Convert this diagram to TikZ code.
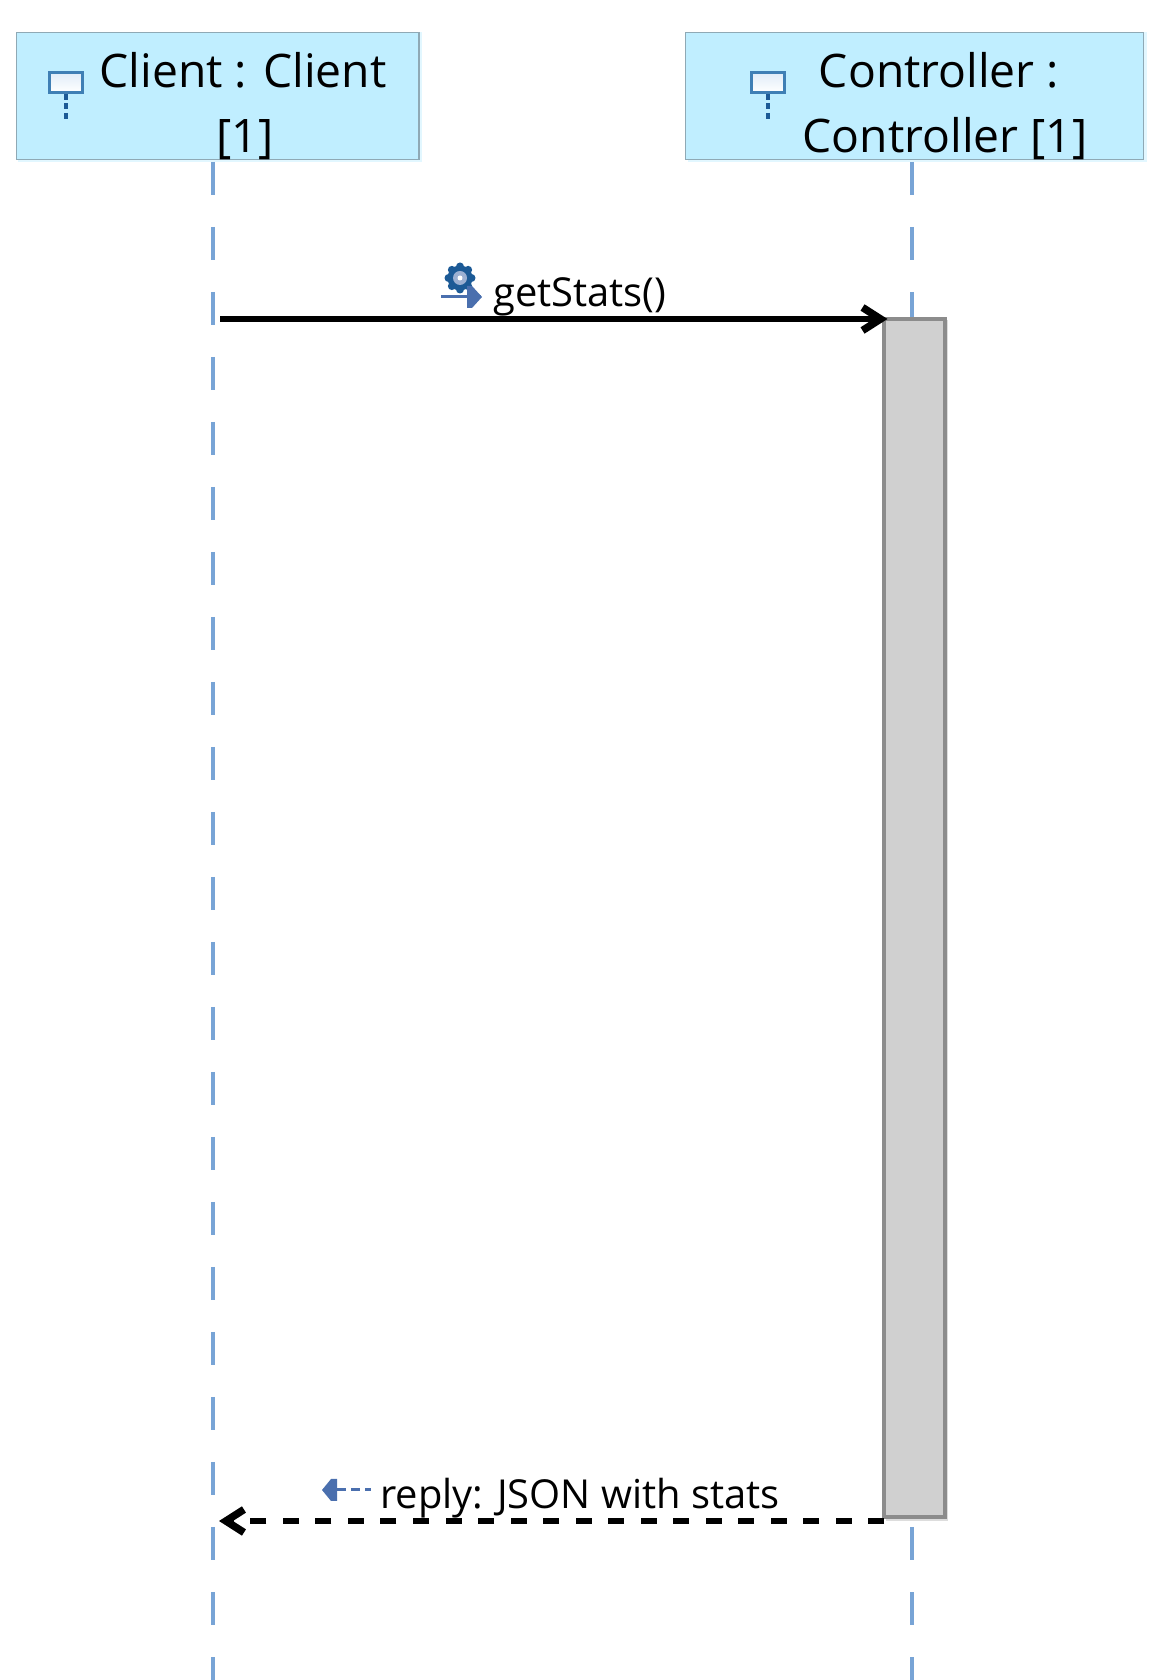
\documentclass[tikz,border=0pt]{standalone}
\usepackage{fontspec}
\setmainfont{Open Sans}
\usetikzlibrary{arrows.meta}

\definecolor{headfill}{HTML}{C0EEFF}
\definecolor{headglow}{HTML}{E2F7FF}
\definecolor{headline}{HTML}{8FA9B5}
\definecolor{lifecolor}{HTML}{78A4D6}
\definecolor{barfill}{HTML}{D0D0D0}
\definecolor{barline}{HTML}{8C8C8C}
\definecolor{iconblue}{HTML}{4A6FAE}
\definecolor{icondark}{HTML}{1C5A96}
\definecolor{iconframe}{HTML}{3F7FB5}
\definecolor{iconpale}{HTML}{E0ECF8}

\tikzset{
    headbox/.style={draw=headline, fill=headfill, line width=0.03cm, minimum height=2.54cm, inner sep=0pt, outer sep=0pt},
    headtext/.style={inner sep=0pt, align=center, font=\fontsize{26.3}{37}\selectfont},
    msgtext/.style={inner sep=0pt, anchor=base west, font=\fontsize{22.7}{27}\selectfont},
    lifeline/.style={draw=lifecolor, line width=0.07cm, dash pattern=on 0.66cm off 0.64cm},
    actbar/.style={draw=barline, fill=barfill, line width=0.08cm, minimum width=1.22cm, minimum height=23.97cm, inner sep=0pt, outer sep=0pt},
    callmsg/.style={line width=0.125cm, -{Straight Barb[length=0.36cm, width=0.46cm, line width=0.15cm]}},
    replymsg/.style={callmsg, line width=0.135cm, dash pattern=on 0.32cm off 0.33cm},
    lifeicon/.pic={
        \draw[icondark, line width=0.07cm, dash pattern=on 0.12cm off 0.07cm] (0,-0.23) -- (0,-0.74);
        \draw[draw=iconframe, line width=0.06cm, top color=iconpale, bottom color=white] (-0.33,-0.2) rectangle (0.33,0.2);
    },
    callicon/.pic={
        \foreach \ang in {0,45,...,315}
            \fill[icondark] (0.38,0.38) ++(\ang:0.23) circle (0.08cm);
        \fill[icondark] (0.38,0.38) circle (0.25cm);
        \fill[iconblue!55!white] (0.38,0.38) circle (0.14cm);
        \fill[white] (0.38,0.38) circle (0.05cm);
        \draw[iconblue, line width=0.06cm] (0,0) -- (0.8,0);
        \fill[iconblue] (0.52,0.22) -- (0.62,0.22) -- (0.82,0) -- (0.62,-0.22) -- (0.52,-0.22) -- cycle;
    },
    replyicon/.pic={
        \fill[iconblue] (0.02,0) -- (0.2,0.22) -- (0.32,0.22) -- (0.32,-0.22) -- (0.2,-0.22) -- cycle;
        \draw[iconblue, line width=0.06cm] (0.3,0) -- (0.5,0);
        \draw[iconblue, line width=0.06cm] (0.6,0) -- (0.78,0);
        \draw[iconblue, line width=0.06cm] (0.88,0) -- (1.0,0);
    }
}

\begin{document}
\begin{tikzpicture}

    \useasboundingbox (0cm,0cm) rectangle (23.22cm,33.6cm);

    % Heads
    \fill[headglow] (0.36cm,30.36cm) rectangle (8.44cm,32.95cm);
    \fill[headglow] (13.76cm,30.36cm) rectangle (22.94cm,32.95cm);
    \node[headbox, minimum width=8.05cm] (client) at (4.35cm, 31.68cm) {};
    \node[headbox, minimum width=9.16cm] (controller) at (18.29cm, 31.68cm) {};

    \pic at (1.32cm, 31.95cm) {lifeicon};
    \pic at (15.36cm, 31.95cm) {lifeicon};

    \node[headtext] (clientname) at (4.86cm, 31.47cm) {Client : Client\\\kern0.08cm{}[1]};
    \node[headtext] (controllername) at (18.9cm, 31.47cm) {Controller :\kern0.24cm\\Controller [1]};

    % Lifelines
    \coordinate (clientend) at (4.26cm, 0cm);
    \coordinate (controllerend) at (18.24cm, 0cm);
    \draw[lifeline, shorten <=0.05cm] (client.south -| clientend) -- (clientend);
    \draw[lifeline, shorten <=0.05cm] (controller.south -| controllerend) -- (controllerend);

    % Activation
    \fill[barline!30!white] (17.72cm,3.18cm) rectangle (18.96cm,27.2cm);
    \node[actbar] (bar) at (18.29cm, 15.235cm) {};

    % Messages
    \coordinate (callfrom) at (4.4cm, 27.24cm);
    \coordinate (replyfrom) at ([yshift=-0.07cm]bar.south west);
    \coordinate (replyto) at (4.38cm, 3.17cm);
    \draw[callmsg, shorten >=-0.07cm] (callfrom |- bar.north west) -- (bar.north west);
    \draw[replymsg] (replyfrom) -- (replyto |- replyfrom);

    \pic at (8.82cm, 27.66cm) {callicon};
    \node[msgtext] (calllabel) at (9.86cm, 27.47cm) {getStats()};

    \pic at (6.42cm, 3.8cm) {replyicon};
    \node[msgtext] (replylabel) at (7.6cm, 3.43cm) {reply: JSON with stats};

\end{tikzpicture}
\end{document}
